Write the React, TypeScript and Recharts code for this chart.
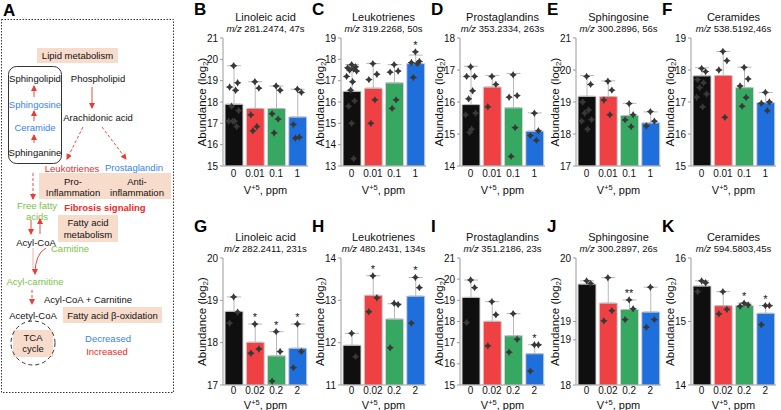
import React from 'react'
import { ComposedChart, Bar, Cell, ErrorBar, Scatter, XAxis, YAxis } from 'recharts'

const FONT = '"Liberation Sans", Arial, Helvetica, sans-serif'
const BAR_COLORS = ['#0f0f0f', '#ef4043', '#37a862', '#1e6fdb']

// dose categories
const dosesTop = ['0', '0.01', '0.1', '1']
const dosesBottom = ['0', '0.02', '0.2', '2']

// B - Linoleic acid (top)
const bMeans = [17.9, 17.7, 17.7, 17.3]
const bTops = [19.7, 18.95, 18.75, 18.6]
const bPoints = [
  [19.7, 18.9, 18.7, 18.55, 17.8, 17.6, 17.1, 17.1, 17.1, 16.85],
  [18.95, 18.65, 17.4, 16.85, 16.65],
  [18.75, 18.55, 17.45, 17.2, 16.55],
  [18.6, 18.45, 16.95, 16.35, 16.3],
]
const bStars = ['', '', '', '']

// C - Leukotrienes (top)
const cMeans = [16.5, 16.65, 16.9, 17.8]
const cTops = [17.75, 17.8, 17.75, 18.2]
const cPoints = [
  [17.75, 17.65, 17.6, 17.55, 17.5, 17.45, 17.2, 16.95, 16.55, 16.05, 15.8, 15.0, 13.35],
  [17.8, 17.3, 17.05, 16.1, 15.0],
  [17.75, 17.45, 17.4, 16.1, 15.7],
  [18.35, 17.9, 17.85, 17.8, 17.15],
]
const cStars = ['', '', '', '*']

// D - Prostaglandins (top)
const dMeans = [15.92, 16.47, 15.82, 15.09]
const dTops = [17.12, 16.83, 16.89, 15.66]
const dPoints = [
  [17.1, 16.8, 16.8, 16.35, 16.1, 15.65, 15.6, 15.15, 15.05],
  [16.8, 16.55, 15.85],
  [16.85, 16.2, 16.15, 15.2, 14.3],
  [15.65, 15.1, 14.95, 14.8],
]
const dStars = ['', '', '', '']

// E - Sphingosine (top)
const eMeans = [19.18, 19.17, 18.58, 18.35]
const eTops = [19.83, 19.66, 18.96, 18.69]
const ePoints = [
  [19.8, 19.55, 19.0, 18.75, 18.65, 18.45, 18.4, 18.15],
  [19.65, 19.37, 19.06, 18.6],
  [18.95, 18.6, 18.44, 18.23],
  [18.7, 18.4, 18.25],
]
const eStars = ['', '', '', '']

// F - Ceramides (top)
const fMeans = [17.82, 17.83, 17.45, 16.98]
const fTops = [18.07, 18.58, 18.09, 17.3]
const fPoints = [
  [18.05, 17.95, 17.7, 17.6, 17.45, 17.25, 17.15, 16.85],
  [18.58, 18.29, 18.0, 16.52],
  [18.08, 17.72, 17.5, 17.14, 16.87],
  [17.3, 17.0, 16.96, 16.73],
]
const fStars = ['', '', '', '']

// G - Linoleic acid (bottom)
const gMeans = [18.74, 18.01, 17.69, 17.87]
const gTops = [19.08, 18.44, 18.26, 18.44]
const gPoints = [
  [19.08, 18.72, 18.46],
  [18.44, 17.85, 17.75],
  [18.26, 17.79, 17.09],
  [18.44, 17.79, 17.41],
]
const gStars = ['', '*', '*', '*']

// H - Leukotrienes (bottom)
const hMeans = [11.94, 13.12, 12.56, 13.1]
const hTops = [12.22, 13.58, 12.92, 13.54]
const hPoints = [
  [12.22, 11.67],
  [13.58, 13.06, 12.73],
  [12.93, 12.9, 11.88],
  [13.54, 13.3, 12.46],
]
const hStars = ['', '*', '', '*']

// I - Prostaglandins (bottom)
const iMeans = [19.14, 18.01, 17.33, 16.48]
const iTops = [19.96, 18.94, 18.37, 16.9]
const iPoints = [
  [19.96, 19.6, 17.95],
  [18.94, 18.32, 16.85],
  [18.37, 17.16, 16.55],
  [16.9, 16.9, 15.66],
]
const iStars = ['', '', '', '*']

// J - Sphingosine (bottom)
const jMeans = [19.59, 19.29, 19.19, 19.15]
const jTops = [19.64, 19.69, 19.34, 19.54]
const jPoints = [
  [19.64, 19.6],
  [19.69, 19.17, 19.01],
  [19.34, 19.2, 19.03],
  [19.54, 19.03, 18.91],
]
const jStars = ['', '', '**', '']

// K - Ceramides (bottom)
const kMeans = [15.56, 15.25, 15.25, 15.13]
const kTops = [15.64, 15.47, 15.29, 15.25]
const kPoints = [
  [15.64, 15.61, 15.47],
  [15.47, 15.19, 15.12],
  [15.29, 15.26, 15.24],
  [15.25, 15.25, 14.95],
]
const kStars = ['', '', '*', '*']

type PanelCfg = {
  id: string
  title: string
  mz: string
  cats: string[]
  means: number[]
  tops: number[]
  points: number[][]
  stars: string[]
  domain: [number, number]
  ticks: number[]
  row: number
  col: number
}

const panels: PanelCfg[] = [
  { id: 'B', title: 'Linoleic acid', mz: '281.2474, 47s', cats: dosesTop, means: bMeans, tops: bTops, points: bPoints, stars: bStars, domain: [15, 21], ticks: [15, 16, 17, 18, 19, 20, 21], row: 0, col: 0 },
  { id: 'C', title: 'Leukotrienes', mz: '319.2268, 50s', cats: dosesTop, means: cMeans, tops: cTops, points: cPoints, stars: cStars, domain: [13, 19], ticks: [13, 14, 15, 16, 17, 18, 19], row: 0, col: 1 },
  { id: 'D', title: 'Prostaglandins', mz: '353.2334, 263s', cats: dosesTop, means: dMeans, tops: dTops, points: dPoints, stars: dStars, domain: [14, 18], ticks: [14, 15, 16, 17, 18], row: 0, col: 2 },
  { id: 'E', title: 'Sphingosine', mz: '300.2896, 56s', cats: dosesTop, means: eMeans, tops: eTops, points: ePoints, stars: eStars, domain: [17, 21], ticks: [17, 18, 19, 20, 21], row: 0, col: 3 },
  { id: 'F', title: 'Ceramides', mz: '538.5192,46s', cats: dosesTop, means: fMeans, tops: fTops, points: fPoints, stars: fStars, domain: [15, 19], ticks: [15, 16, 17, 18, 19], row: 0, col: 4 },
  { id: 'G', title: 'Linoleic acid', mz: '282.2411, 231s', cats: dosesBottom, means: gMeans, tops: gTops, points: gPoints, stars: gStars, domain: [17, 20], ticks: [17, 18, 19, 20], row: 1, col: 0 },
  { id: 'H', title: 'Leukotrienes', mz: '480.2431, 134s', cats: dosesBottom, means: hMeans, tops: hTops, points: hPoints, stars: hStars, domain: [11, 14], ticks: [11, 12, 13, 14], row: 1, col: 1 },
  { id: 'I', title: 'Prostaglandins', mz: '351.2186, 23s', cats: dosesBottom, means: iMeans, tops: iTops, points: iPoints, stars: iStars, domain: [15, 21], ticks: [15, 16, 17, 18, 19, 20, 21], row: 1, col: 2 },
  { id: 'J', title: 'Sphingosine', mz: '300.2897, 26s', cats: dosesBottom, means: jMeans, tops: jTops, points: jPoints, stars: jStars, domain: [18, 20], ticks: [18, 18.71, 19, 20], row: 1, col: 3 },
  { id: 'K', title: 'Ceramides', mz: '594.5803,45s', cats: dosesBottom, means: kMeans, tops: kTops, points: kPoints, stars: kStars, domain: [14, 16], ticks: [14, 15, 16], row: 1, col: 4 },
]

// layout
const AXIS_X = [223, 341, 460, 576, 691]
const ROWS = [
  { plotTop: 38, plotBottom: 166, titleY: 17, mzY: 29, letterY: 3, axisH: 34, tickGap: 3, xLabelDy: 28 },
  { plotTop: 258, plotBottom: 385, titleY: 237, mzY: 249, letterY: 220, axisH: 25, tickGap: 1, xLabelDy: 24 },
]
const Y_W = 34
const PLOT_W = 85
const TOP_M = 6
const JITTER = [0, 4, -4, 2, -2, 5, -5, 1, -1, 3, -3, 0, 2]

const Dot = (props: any) => {
  const { cx, cy, payload } = props
  if (cx == null || cy == null) return null
  const x = cx + JITTER[payload.k % JITTER.length]
  const r = 3.7
  const q = 1.4
  const d = `M${x},${cy - r} L${x + q},${cy - q} L${x + r},${cy} L${x + q},${cy + q} L${x},${cy + r} L${x - q},${cy + q} L${x - r},${cy} L${x - q},${cy - q} Z`
  return <path d={d} fill="#383838" />
}

const Star = (props: any) => {
  const { cx, cy, payload } = props
  if (cx == null || cy == null) return null
  return (
    <text x={cx} y={cy - 3} textAnchor="middle" fontSize={11} fontFamily={FONT} fill="#111">
      {payload.s}
    </text>
  )
}

const YLab = (props: any) => {
  const vb = props.viewBox || {}
  const cx = vb.x + 13
  const cy = vb.y + vb.height / 2
  return (
    <text x={cx} y={cy} transform={`rotate(-90 ${cx} ${cy})`} textAnchor="middle" dominantBaseline="central" fontSize={11.5} fontFamily={FONT} fill="#111">
      Abundance (log<tspan dy={3} fontSize={8}>2</tspan><tspan dy={-3}>)</tspan>
    </text>
  )
}

const makeXLab = (dy: number) => (props: any) => {
  const vb = props.viewBox || {}
  const cx = vb.x + vb.width / 2
  return (
    <text x={cx} y={vb.y + dy} textAnchor="middle" fontSize={11} fontFamily={FONT} fill="#111">
      V<tspan dy={-4} fontSize={7.5}>+5</tspan><tspan dy={4}>, ppm</tspan>
    </text>
  )
}

function BarPanel({ p }: { p: PanelCfg }) {
  const row = ROWS[p.row]
  const axisX = AXIS_X[p.col]
  const plotH = row.plotBottom - row.plotTop
  const barData = p.cats.map((g, i) => ({ g, mean: p.means[i], err: [0, p.tops[i] - p.means[i]] }))
  const pts = p.cats.flatMap((g, i) => p.points[i].map((v, k) => ({ g, v, k })))
  const starData = p.cats
    .map((g, i) => ({ g, v: Math.max(p.tops[i], ...p.points[i]), s: p.stars[i] }))
    .filter((d) => d.s)

  return (
    <div style={{ position: 'absolute', left: axisX - Y_W, top: row.plotTop - TOP_M }}>
      <ComposedChart
        width={Y_W + PLOT_W + 2}
        height={TOP_M + plotH + row.axisH}
        data={barData}
        margin={{ top: TOP_M, right: 2, bottom: 0, left: 0 }}
      >
        <XAxis
          dataKey="g"
          type="category"
          allowDuplicatedCategory={false}
          interval={0}
          tickLine={false}
          tickSize={row.tickGap}
          tickMargin={1}
          axisLine={{ stroke: '#9a9a9a' }}
          tick={{ fontSize: 10, fill: '#111', fontFamily: FONT }}
          height={row.axisH}
          label={{ content: makeXLab(row.xLabelDy) }}
        />
        <YAxis
          type="number"
          domain={p.domain}
          ticks={p.ticks}
          interval={0}
          allowDataOverflow
          width={Y_W}
          tickSize={3}
          tickMargin={2}
          tickLine={{ stroke: '#9a9a9a' }}
          axisLine={{ stroke: '#9a9a9a' }}
          tick={{ fontSize: 10, fill: '#111', fontFamily: FONT }}
          tickFormatter={(v: number) => String(Math.round(v))}
          label={{ content: YLab }}
        />
        <Bar dataKey="mean" barSize={18} isAnimationActive={false}>
          {barData.map((d, i) => (
            <Cell key={d.g} fill={BAR_COLORS[i]} stroke="#d2d2d2" strokeWidth={1} />
          ))}
          <ErrorBar dataKey="err" width={7} stroke="#b8b8b8" strokeWidth={1} direction="y" />
        </Bar>
        <Scatter data={pts} dataKey="v" shape={Dot} isAnimationActive={false} />
        {starData.length > 0 && <Scatter data={starData} dataKey="v" shape={Star} isAnimationActive={false} />}
      </ComposedChart>
    </div>
  )
}

function PanelText({ p }: { p: PanelCfg }) {
  const row = ROWS[p.row]
  const axisX = AXIS_X[p.col]
  const center = axisX + PLOT_W / 2
  return (
    <>
      <div style={{ position: 'absolute', left: axisX - 29, top: row.letterY - 2, fontSize: 17, fontWeight: 'bold', lineHeight: '17px' }}>
        {p.id}
      </div>
      <div style={{ position: 'absolute', left: center - 60, width: 120, top: row.titleY - 6, textAlign: 'center', fontSize: 11, lineHeight: '12px', color: '#111' }}>
        {p.title}
      </div>
      <div style={{ position: 'absolute', left: center - 60, width: 120, top: row.mzY - 5, textAlign: 'center', fontSize: 9.5, lineHeight: '10px', color: '#111' }}>
        <i>m/z</i> {p.mz}
      </div>
    </>
  )
}

const PEACH = '#f8dccb'
const TBLUE = '#3a84e6'
const TRED = '#ee2a26'
const TGREEN = '#7cbf45'

function T({ x, y, c = '#111', b = false, children }: any) {
  return (
    <text x={x} y={y} textAnchor="middle" fontSize={9.5} fontFamily={FONT} fill={c} fontWeight={b ? 'bold' : 'normal'}>
      {children}
    </text>
  )
}

function Pathway() {
  const arrow = (x1: number, y1: number, x2: number, y2: number, dashed = false) => (
    <line x1={x1} y1={y1} x2={x2} y2={y2} stroke="#ee4a45" strokeWidth={1} strokeDasharray={dashed ? '3 2' : undefined} markerEnd="url(#ah)" />
  )
  return (
    <svg width={180} height={400} style={{ position: 'absolute', left: 0, top: 0 }}>
      <defs>
        <marker id="ah" markerWidth="6" markerHeight="6" refX="5" refY="3" orient="auto" markerUnits="userSpaceOnUse">
          <path d="M0,0 L6,3 L0,6 Z" fill="#ee3a35" />
        </marker>
      </defs>
      <text x={3} y={16} fontSize={17} fontWeight="bold" fontFamily={FONT}>A</text>
      <rect x={1.5} y={19.5} width={172} height={373} fill="none" stroke="#333" strokeWidth={1} strokeDasharray="1.5 1.5" />

      <rect x={37} y={48} width={81} height={15} fill={PEACH} />
      <T x={77.5} y={59}>Lipid metabolism</T>

      <rect x={8.5} y={66.5} width={53} height={97} rx={8} fill="none" stroke="#333" strokeWidth={1} />
      <T x={35} y={82}>Sphingolipid</T>
      {arrow(34, 97, 34, 86)}
      <T x={35} y={107.5} c={TBLUE}>Sphingosine</T>
      {arrow(34, 121, 34, 111)}
      <T x={35} y={130.5} c={TBLUE}>Ceramide</T>
      {arrow(34, 143, 34, 135)}
      <T x={35} y={156}>Sphinganine</T>

      <T x={98} y={82}>Phospholipid</T>
      {arrow(92, 87, 92, 108)}
      <T x={98} y={120.5}>Arachidonic acid</T>
      {arrow(83, 127, 67, 159, true)}
      {arrow(102, 127, 126, 159, true)}
      <T x={72} y={171.5} c={TRED}>Leukotrienes</T>
      <T x={134} y={170.5} c={TBLUE}>Prostaglandin</T>

      <rect x={39} y={173} width={132} height={26} fill={PEACH} />
      <T x={73} y={184.5}>Pro-</T>
      <T x={73} y={196}>Inflammation</T>
      <T x={137} y={184.5}>Anti-</T>
      <T x={137} y={196}>inflammation</T>

      {arrow(33, 173, 33, 199, true)}
      <T x={37} y={209} c={TGREEN}>Free fatty</T>
      <T x={37} y={220} c={TGREEN}>acids</T>
      <T x={105} y={210.5} c={TRED} b>Fibrosis signaling</T>

      <rect x={58} y={215} width={60} height={27} fill={PEACH} />
      <T x={88} y={226}>Fatty acid</T>
      <T x={88} y={237.5}>metabolism</T>
      {arrow(31, 220, 31, 234)}
      {arrow(40, 234, 40, 219)}
      <T x={36} y={245.5}>Acyl-CoA</T>
      <T x={70} y={251.5} c={TGREEN}>Carnitine</T>
      <line x1={33} y1={248} x2={33} y2={272} stroke="#f3b0ad" strokeWidth={1} />
      <path d="M46,248 Q35,254 35,274" fill="none" stroke="#ee4a45" strokeWidth={1} markerEnd="url(#ah)" />
      <T x={35} y={284.5} c={TGREEN}>Acyl-carnitine</T>
      {arrow(32, 290, 32, 304, true)}
      <T x={88} y={302.5}>Acyl-CoA + Carnitine</T>
      <T x={33} y={318.5}>Acetyl-CoA</T>
      <rect x={63} y={307} width={99} height={16} fill={PEACH} />
      <T x={112.5} y={318.5}>Fatty acid β-oxidation</T>

      <rect x={13} y={330} width={40} height={27} fill={PEACH} />
      <circle cx={33} cy={343} r={22} fill="none" stroke="#333" strokeWidth={1} strokeDasharray="4 3" />
      <T x={33} y={340.5}>TCA</T>
      <T x={33} y={352}>cycle</T>
      <T x={108} y={341.5} c={TBLUE}>Decreased</T>
      <T x={107} y={355} c={TRED}>Increased</T>
    </svg>
  )
}

export default function App() {
  return (
    <div style={{ position: 'absolute', left: 0, top: 0, width: 781, height: 410, background: '#fff', fontFamily: FONT, overflow: 'hidden' }}>
      <Pathway />
      {panels.map((p) => (
        <React.Fragment key={p.id}>
          <PanelText p={p} />
          <BarPanel p={p} />
        </React.Fragment>
      ))}
    </div>
  )
}
